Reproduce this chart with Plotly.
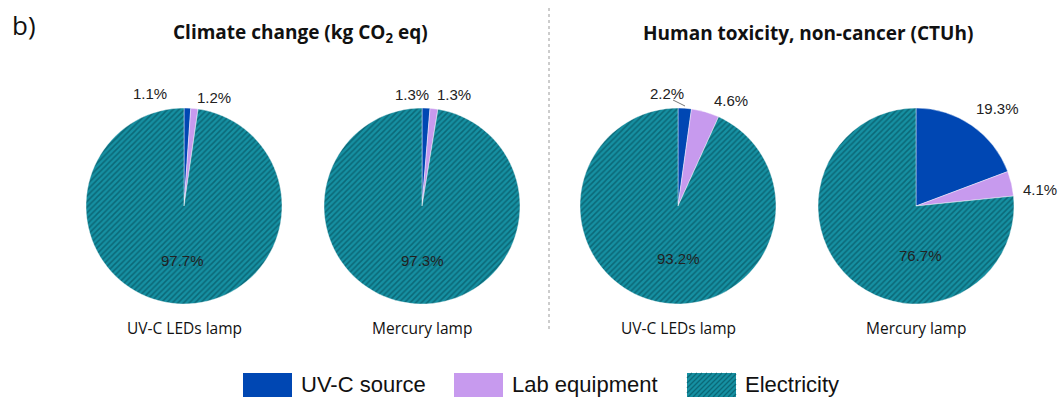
import plotly.graph_objects as go

# Contribution of each life-cycle stage (%)
sources = ["UV-C source", "Lab equipment", "Electricity"]
lamps = ["UV-C LEDs lamp", "Mercury lamp"]
climate_leds = [1.1, 1.2, 97.7]
climate_mercury = [1.3, 1.3, 97.3]
toxicity_leds = [2.2, 4.6, 93.2]
toxicity_mercury = [19.3, 4.1, 76.7]
panel_titles = ["Climate change (kg CO<sub>2</sub> eq)", "Human toxicity, non-cancer (CTUh)"]

W, H = 1058, 397
BLUE = "#0047B3"
LILAC = "#C79AEE"
TEAL = "#1690A2"
TEAL_DARK = "#0B6877"
colors = [BLUE, LILAC, TEAL]

fig = go.Figure()

# pie centres in pixels
centres = [184, 422, 678, 916]
cy = 206
radius = 98
series = [climate_leds, climate_mercury, toxicity_leds, toxicity_mercury]


def px(x):
    return x / W


def py(y):
    return 1 - y / H


for cx, vals in zip(centres, series):
    fig.add_trace(go.Pie(
        labels=sources,
        values=vals,
        sort=False,
        direction="clockwise",
        rotation=0,
        textinfo="none",
        hoverinfo="label+percent",
        showlegend=False,
        marker=dict(
            colors=colors,
            line=dict(color="rgba(255,255,255,0.7)", width=0.6),
            pattern=dict(shape=["", "", "/"], fgcolor=TEAL_DARK, bgcolor=TEAL,
                         size=4, solidity=0.38, fillmode="replace"),
        ),
        domain=dict(x=[px(cx - radius), px(cx + radius)],
                    y=[py(cy + radius), py(cy - radius)]),
    ))

annotations = []


def label(text, x, y, size=15, color="#222222", family="Liberation Sans, Arial", anchor="center"):
    annotations.append(dict(text=text, x=px(x), y=py(y), xref="paper", yref="paper",
                            showarrow=False, font=dict(family=family, size=size, color=color),
                            xanchor=anchor, yanchor="middle"))


# percentage labels
pct = lambda v: f"{v}%"
label(pct(climate_leds[0]), 150, 93)
label(pct(climate_leds[1]), 214, 97)
label(pct(climate_leds[2]), 183, 260)
label(pct(climate_mercury[0]), 412, 95)
label(pct(climate_mercury[1]), 454, 95)
label(pct(climate_mercury[2]), 422, 260)
label(pct(toxicity_leds[0]), 667, 93)
label(pct(toxicity_leds[1]), 731, 101)
label(pct(toxicity_leds[2]), 678, 258)
label(pct(toxicity_mercury[0]), 997, 108)
label(pct(toxicity_mercury[1]), 1040, 189)
label(pct(toxicity_mercury[2]), 920, 255)

# lamp captions under each pie
for cx, name in zip(centres, lamps * 2):
    label(name, cx, 328, size=15.5, color="#111111", family="Open Sans, Liberation Sans")

# panel titles
for cx, t in zip([300, 808], panel_titles):
    label(f"<b>{t}</b>", cx, 33, size=19, color="#111111", family="Open Sans, Liberation Sans")

label("b)", 10, 25, size=26, color="#111111", family="Open Sans, Liberation Sans", anchor="left")

shapes = []
# dotted divider
shapes.append(dict(type="line", xref="paper", yref="paper", x0=px(549), x1=px(549), y0=py(8), y1=py(330),
                   line=dict(color="#9a9a9a", width=1, dash="dot")))
# leader line for the 2.2% label
shapes.append(dict(type="line", xref="paper", yref="paper", x0=px(673), x1=px(685), y0=py(100), y1=py(106),
                   line=dict(color="#777777", width=1)))

# legend drawn as patches
legend_items = [(243, 292, 299), (454, 503, 510), (687, 736, 743)]
for (x0, x1, tx), name, col in zip(legend_items, sources, colors):
    shapes.append(dict(type="rect", xref="paper", yref="paper", x0=px(x0), x1=px(x1), y0=py(397), y1=py(373),
                       fillcolor=col, line=dict(width=0)))
    label(name, tx, 384, size=22, color="#111111", anchor="left")

# hatching on the electricity patch
x0, x1 = 687, 736
ytop, ybot = 373, 397
span = ybot - ytop
for k in range(-span, x1 - x0, 5):
    xa, ya = x0 + k, ybot
    xb, yb = x0 + k + span, ytop
    if xa < x0:
        ya = ybot - (x0 - xa)
        xa = x0
    if xb > x1:
        yb = ytop + (xb - x1)
        xb = x1
    if xb <= xa:
        continue
    shapes.append(dict(type="line", xref="paper", yref="paper", x0=px(xa), x1=px(xb), y0=py(ya), y1=py(yb),
                       line=dict(color=TEAL_DARK, width=1.3)))

fig.update_layout(
    width=W, height=H,
    margin=dict(l=0, r=0, t=0, b=0),
    paper_bgcolor="white",
    plot_bgcolor="white",
    annotations=annotations,
    shapes=shapes,
)

fig.write_html("out.html")
